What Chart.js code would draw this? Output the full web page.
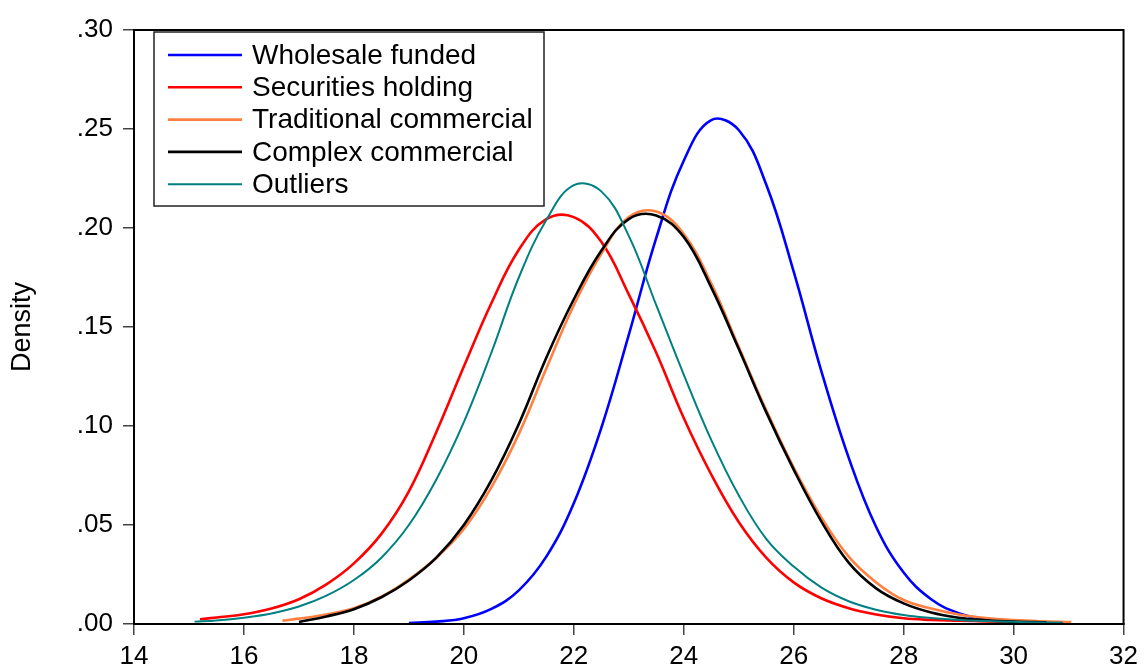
<!DOCTYPE html>
<html>
<head>
<meta charset="utf-8">
<title>Density</title>
<script src="https://cdn.jsdelivr.net/npm/chart.js@4.4.0/dist/chart.umd.min.js"></script>
<style>
  html, body { margin: 0; padding: 0; background: #fff; }
  #wrap { width: 1144px; height: 668px; }
</style>
</head>
<body>
<div id="wrap"><canvas id="my-chart" width="1144" height="668"></canvas></div>
<script>
'use strict';

// *********** DATA ***************************************

let seriesNames = ['Wholesale funded', 'Securities holding', 'Traditional commercial', 'Complex commercial', 'Outliers'];
let seriesColors = ['#0000ff', '#ff0000', '#ff8040', '#000000', '#008080'];

let xTicks = [14, 16, 18, 20, 22, 24, 26, 28, 30, 32];
let yTicks = [0, 0.05, 0.10, 0.15, 0.20, 0.25, 0.30];

// Wholesale funded
let wfX = [19, 19.5, 20, 20.5, 21, 21.5, 22, 22.5, 23, 23.5, 24, 24.5, 25, 25.5, 26, 26.5, 27, 27.5, 28, 28.5, 29, 29.5, 30, 30.5, 30.8];
let wfY = [0.0005, 0.0012, 0.0029, 0.0076, 0.017, 0.034, 0.061, 0.099, 0.146, 0.195, 0.234, 0.2545, 0.2495, 0.222, 0.178, 0.128, 0.084, 0.049, 0.026, 0.0125, 0.0055, 0.0023, 0.0009, 0.0004, 0.0003];

// Securities holding
let shX = [15.2, 15.5, 16, 16.5, 17, 17.5, 18, 18.5, 19, 19.5, 20, 20.5, 21, 21.5, 22, 22.5, 23, 23.5, 24, 24.5, 25, 25.5, 26, 26.5, 27, 27.5, 28, 28.5, 29, 29.5, 30, 30.5, 30.9];
let shY = [0.0024, 0.0033, 0.0049, 0.0078, 0.0125, 0.020, 0.0306, 0.0455, 0.067, 0.097, 0.130, 0.162, 0.189, 0.2045, 0.2055, 0.193, 0.1665, 0.137, 0.104, 0.0755, 0.0515, 0.0335, 0.021, 0.013, 0.008, 0.0048, 0.0029, 0.0021, 0.0017, 0.0013, 0.0010, 0.0008, 0.0006];

// Traditional commercial
let tcX = [16.7, 17, 17.5, 18, 18.5, 19, 19.5, 20, 20.5, 21, 21.5, 22, 22.5, 23, 23.5, 24, 24.5, 25, 25.5, 26, 26.5, 27, 27.5, 28, 28.5, 29, 29.5, 30, 30.5, 31.05];
let tcY = [0.0017, 0.0027, 0.0048, 0.0079, 0.0138, 0.0225, 0.0335, 0.048, 0.069, 0.096, 0.129, 0.161, 0.187, 0.2055, 0.2083, 0.197, 0.172, 0.140, 0.108, 0.079, 0.054, 0.034, 0.021, 0.0121, 0.0078, 0.0048, 0.0030, 0.0020, 0.0014, 0.0010];

// Complex commercial
let ccX = [17, 17.5, 18, 18.5, 19, 19.5, 20, 20.5, 21, 21.5, 22, 22.5, 23, 23.5, 24, 24.5, 25, 25.5, 26, 26.5, 27, 27.5, 28, 28.5, 29, 29.5, 30, 30.6];
let ccY = [0.0010, 0.0038, 0.0075, 0.0135, 0.022, 0.0335, 0.050, 0.0725, 0.101, 0.1345, 0.164, 0.1885, 0.2045, 0.2063, 0.1955, 0.170, 0.139, 0.107, 0.078, 0.052, 0.031, 0.018, 0.0104, 0.0058, 0.0032, 0.0019, 0.0012, 0.0008];

// Outliers
let olX = [15.1, 15.5, 16, 16.5, 17, 17.5, 18, 18.5, 19, 19.5, 20, 20.5, 21, 21.5, 22, 22.5, 23, 23.5, 24, 24.5, 25, 25.5, 26, 26.5, 27, 27.5, 28, 28.5, 29, 29.5, 30, 30.5, 30.9];
let olY = [0.0012, 0.0018, 0.0032, 0.0053, 0.0088, 0.0143, 0.0222, 0.0335, 0.050, 0.073, 0.102, 0.137, 0.175, 0.204, 0.2216, 0.2185, 0.196, 0.161, 0.126, 0.093, 0.065, 0.043, 0.029, 0.0185, 0.0115, 0.0072, 0.0045, 0.0030, 0.0020, 0.0015, 0.0011, 0.0008, 0.0006];

let allX = [wfX, shX, tcX, ccX, olX];
let allY = [wfY, shY, tcY, ccY, olY];
let lineWidths = [2.6, 2.6, 2.6, 2.6, 2];

// ********** HELPERS ********************

const FONT = "'Liberation Sans', Arial, Helvetica, sans-serif";

function toPoints(xs, ys) {
  let pts = [];
  for (let i = 0; i < xs.length; i++) {
    pts.push({ x: xs[i], y: ys[i] });
  }
  return pts;
}

function buildDatasets() {
  let sets = [];
  for (let i = 0; i < seriesNames.length; i++) {
    sets.push({
      label: seriesNames[i],
      data: toPoints(allX[i], allY[i]),
      borderColor: seriesColors[i],
      backgroundColor: seriesColors[i],
      borderWidth: lineWidths[i],
      pointRadius: 0,
      tension: 0.4,
      fill: false,
      order: seriesNames.length - i
    });
  }
  return sets;
}

// frame round the plot + legend box inside it
const framePlugin = {
  id: 'frameAndLegend',
  afterDraw(chart) {
    let ctx = chart.ctx;
    let a = chart.chartArea;
    ctx.save();
    ctx.strokeStyle = '#000';
    ctx.lineWidth = 2;
    ctx.strokeRect(a.left, a.top, a.right - a.left, a.bottom - a.top);

    // legend
    let bx = 154, by = 32, bw = 390, bh = 174;
    ctx.fillStyle = '#fff';
    ctx.fillRect(bx, by, bw, bh);
    ctx.strokeStyle = '#222';
    ctx.lineWidth = 1.5;
    ctx.strokeRect(bx, by, bw, bh);
    ctx.font = '28px ' + FONT;
    ctx.textBaseline = 'middle';
    ctx.textAlign = 'left';
    for (let i = 0; i < seriesNames.length; i++) {
      let yy = 55 + i * 32.3;
      ctx.strokeStyle = seriesColors[i];
      ctx.lineWidth = lineWidths[i];
      ctx.beginPath();
      ctx.moveTo(168, yy);
      ctx.lineTo(242, yy);
      ctx.stroke();
      ctx.fillStyle = '#000';
      ctx.fillText(seriesNames[i], 252, yy + 1);
    }
    ctx.restore();
  }
};

// ********** CHART ***************

let ctx = document.getElementById('my-chart').getContext('2d');

let myChartObj = {
  type: 'line',
  data: { datasets: buildDatasets() },
  options: {
    responsive: false,
    animation: false,
    devicePixelRatio: 1,
    layout: { padding: { top: 30, right: 17, left: 0, bottom: 0 } },
    plugins: {
      legend: { display: false },
      tooltip: { enabled: false }
    },
    scales: {
      x: {
        type: 'linear',
        min: xTicks[0],
        max: xTicks[xTicks.length - 1],
        afterBuildTicks(scale) {
          scale.ticks = xTicks.map(v => ({ value: v }));
        },
        afterFit(scale) { scale.height = 44; },
        border: { display: true, color: '#000', width: 2 },
        grid: { drawOnChartArea: false, drawTicks: true, tickLength: 11, color: '#444', lineWidth: 1.5 },
        ticks: {
          color: '#000',
          padding: 6,
          maxRotation: 0,
          font: { family: FONT, size: 26 },
          callback: v => String(v)
        }
      },
      y: {
        type: 'linear',
        min: yTicks[0],
        max: yTicks[yTicks.length - 1],
        afterBuildTicks(scale) {
          scale.ticks = yTicks.map(v => ({ value: v }));
        },
        afterFit(scale) { scale.width = 134; },
        border: { display: true, color: '#000', width: 2 },
        grid: { drawOnChartArea: false, drawTicks: true, tickLength: 11, color: '#444', lineWidth: 1.5 },
        title: {
          display: true,
          text: 'Density',
          color: '#000',
          font: { family: FONT, size: 27 },
          padding: { top: 6, bottom: 0 }
        },
        ticks: {
          color: '#000',
          padding: 10,
          font: { family: FONT, size: 26 },
          callback: v => v.toFixed(2).replace(/^0/, '')
        }
      }
    }
  },
  plugins: [framePlugin]
};

new Chart(ctx, myChartObj);
</script>
</body>
</html>
